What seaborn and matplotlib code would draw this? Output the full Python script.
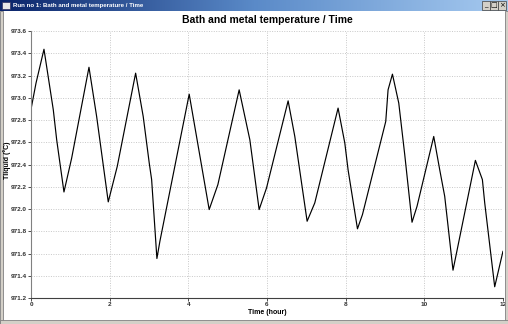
import numpy as np
import pandas as pd
import matplotlib
matplotlib.use("Agg")
import matplotlib.pyplot as plt
from matplotlib.patches import Rectangle
from matplotlib.colors import LinearSegmentedColormap
import seaborn as sns

# ---- data ----
time_hour = [0.0, 0.127, 0.330, 0.567, 0.653, 0.838, 1.034, 1.474, 1.669, 1.964,
             2.193, 2.660, 2.853, 3.006, 3.067, 3.201, 3.277, 4.022, 4.530, 4.751,
             5.292, 5.564, 5.800, 5.988, 6.537, 6.707, 7.020, 7.215, 7.807, 7.978,
             8.061, 8.300, 8.427, 9.019, 9.078, 9.189, 9.350, 9.502, 9.687, 9.814,
             10.239, 10.391, 10.518, 10.729, 11.298, 11.476, 11.535, 11.789, 12.0]
t_liquid = [972.896, 973.131, 973.436, 972.891, 972.622, 972.153, 972.458, 973.274, 972.831, 972.064,
            972.383, 973.221, 972.831, 972.413, 972.264, 971.555, 971.710, 973.032, 971.995, 972.219,
            973.071, 972.622, 971.995, 972.189, 972.972, 972.652, 971.890, 972.055, 972.907, 972.593,
            972.353, 971.822, 971.950, 972.787, 973.071, 973.212, 972.952, 972.488, 971.881, 972.024,
            972.652, 972.353, 972.114, 971.450, 972.437, 972.264, 972.055, 971.301, 971.621]
x_ticks = [0, 2, 4, 6, 8, 10, 12]
y_ticks = [971.2, 971.4, 971.6, 971.8, 972.0, 972.2, 972.4, 972.6, 972.8, 973.0, 973.2, 973.4, 973.6]

window_title = "Run no 1: Bath and metal temperature / Time"
chart_title = "Bath and metal temperature / Time"
x_label = "Time (hour)"
y_label = "Tliquid (°C)"

df = pd.DataFrame({"time": time_hour, "temp": t_liquid})

sns.set_theme(style="white")
plt.rcParams["font.family"] = ["Liberation Sans", "DejaVu Sans"]

W, H = 508, 324
fig = plt.figure(figsize=(W / 100, H / 100), dpi=100)
fig.patch.set_facecolor("white")

def fx(px):
    return px / W

def fy(py):
    return 1 - py / H

# ---- window chrome ----
tb = fig.add_axes([0, fy(11), 1, 11 / H])
grad = np.linspace(0, 1, 256).reshape(1, -1)
cmap = LinearSegmentedColormap.from_list("tb", ["#0a246a", "#5a8ac8", "#a6caf0"])
tb.imshow(grad, aspect="auto", cmap=cmap, extent=[0, 1, 0, 1])
tb.set_axis_off()
tb.text(fx(13), 0.5, window_title, color="white", fontsize=4.4, fontweight="bold",
        va="center", ha="left", transform=tb.transAxes)
tb.add_patch(Rectangle((fx(2), 0.18), fx(8), 0.64, transform=tb.transAxes,
                       facecolor="#e8e8e8", edgecolor="#303060", lw=0.5))
for i, sym in enumerate(["_", "□", "×"]):
    x0 = (482 + i * 8) / W
    tb.add_patch(Rectangle((x0, 0.12), 7.5 / W, 0.76, transform=tb.transAxes,
                           facecolor="#d4d0c8", edgecolor="#404040", lw=0.5))
    tb.text(x0 + 3.75 / W, 0.5, sym, transform=tb.transAxes, fontsize=5,
            ha="center", va="center", color="black", family=["DejaVu Sans"])

fig.patches.append(Rectangle((0, 0), fx(3), fy(11), transform=fig.transFigure,
                             facecolor="#d4d0c8", edgecolor="#808080", lw=0.6))
fig.patches.append(Rectangle((fx(505), 0), fx(3), fy(11), transform=fig.transFigure,
                             facecolor="#d4d0c8", edgecolor="#808080", lw=0.6))
fig.patches.append(Rectangle((0, 0), 1, 4 / H, transform=fig.transFigure,
                             facecolor="#d4d0c8", edgecolor="#808080", lw=0.6))

# ---- chart ----
ax = fig.add_axes([fx(31), fy(298), (503 - 31) / W, (298 - 31) / H])
ax.set_facecolor("white")
sns.lineplot(data=df, x="time", y="temp", color="black", linewidth=0.85, ax=ax,
             sort=False, estimator=None)

ax.set_xlim(0, 12)
ax.set_ylim(971.2, 973.6)
ax.set_xticks(x_ticks)
ax.set_yticks(y_ticks)
ax.set_xticklabels([str(v) for v in x_ticks])
ax.set_yticklabels([f"{v:.1f}" for v in y_ticks])
ax.tick_params(axis="both", labelsize=4.6, length=2.2, width=0.6, pad=1.0,
               colors="#303030", direction="out", left=True, bottom=True)
for lab in ax.get_xticklabels() + ax.get_yticklabels():
    lab.set_fontweight("bold")

ax.grid(True, color="#c8c8c8", linestyle=(0, (1, 1.5)), linewidth=0.7)
for side in ["top", "right"]:
    ax.spines[side].set_visible(False)
ax.spines["left"].set_color("#808080")
ax.spines["left"].set_linewidth(0.8)
ax.spines["bottom"].set_color("#404040")
ax.spines["bottom"].set_linewidth(0.8)

ax.set_xlabel("")
ax.set_ylabel("")
fig.text(fx(267), fy(313), x_label, ha="center", va="center", fontsize=5.0,
         fontweight="bold", color="black")
fig.text(fx(7), fy(160), y_label, ha="center", va="center", fontsize=5.0,
         fontweight="bold", color="black", rotation=90)
fig.text(fx(267), fy(20), chart_title, ha="center", va="center", fontsize=7.5,
         fontweight="bold", color="black")

fig.savefig("out.png", dpi=100, facecolor=fig.get_facecolor())
